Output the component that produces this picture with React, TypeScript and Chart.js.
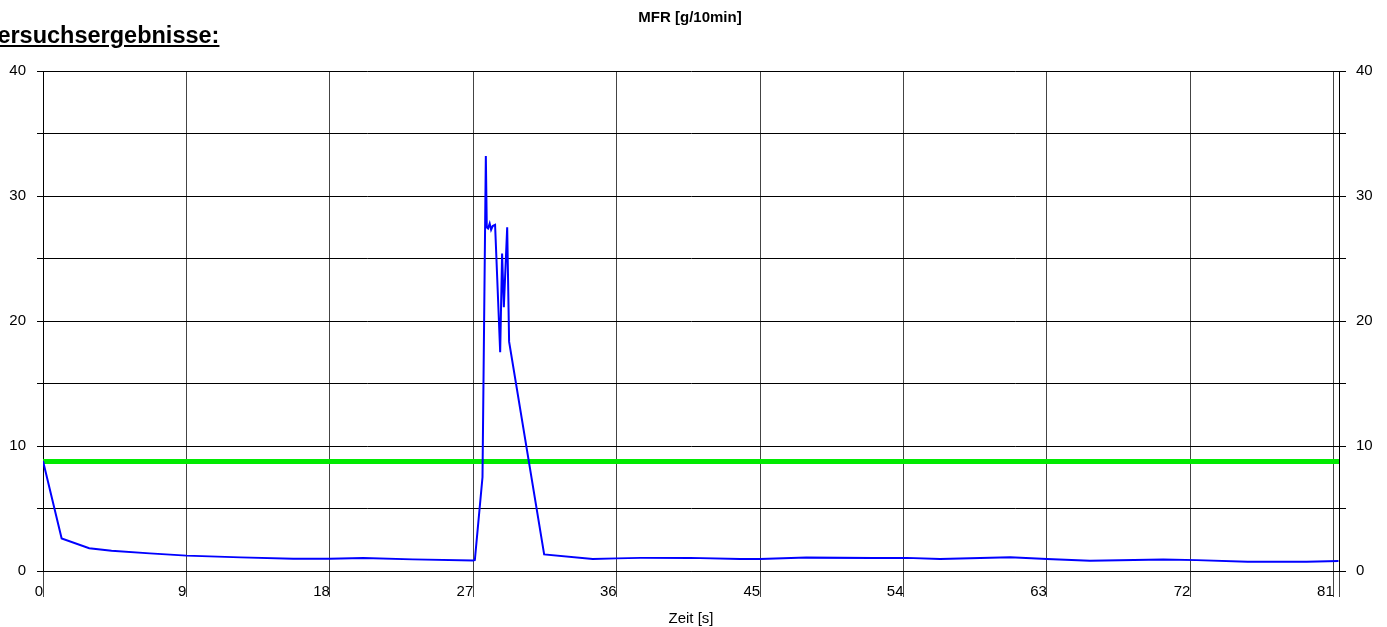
import React, { useEffect, useRef } from "react";
import { Chart, registerables } from "chart.js";

Chart.register(...registerables);

const timeS = [0, 1.17, 2.9, 4.3, 6.7, 9.0, 12.4, 15.7, 18, 20.1, 23.2, 27.0, 27.1, 27.58, 27.79, 27.85, 27.93, 28.03, 28.12, 28.22, 28.37, 28.69, 28.81, 28.92, 29.13, 29.25, 31.45, 34.5, 36, 37.5, 40.6, 43.75, 45, 47.9, 52.1, 54.2, 56.3, 60.7, 63, 65.7, 70.3, 72.4, 75.6, 79.3, 81.3];
const mfrValues = [8.8, 2.6, 1.82, 1.62, 1.41, 1.23, 1.09, 0.99, 0.99, 1.04, 0.93, 0.85, 0.88, 7.5, 33.2, 27.5, 27.4, 27.8, 27.3, 27.6, 27.7, 17.5, 25.4, 21.1, 27.5, 18.35, 1.33, 0.96, 1.01, 1.05, 1.05, 0.96, 0.96, 1.07, 1.05, 1.05, 0.96, 1.09, 0.96, 0.83, 0.91, 0.87, 0.75, 0.75, 0.8];
const limitTimes = [0, 81.33];
const limitValues = [8.76, 8.76];
const xTicks = [0, 9, 18, 27, 36, 45, 54, 63, 72, 81, 81.33];
const xMax = 81.33;
const yMin = 0;
const yMax = 40;
const yStep = 5;
const titleText = "MFR [g/10min]";
const xTitle = "Zeit [s]";
const headingText = "Versuchsergebnisse:";

const FONT = "'Liberation Sans', Arial, sans-serif";

export default function App() {
  const ref = useRef<HTMLCanvasElement | null>(null);

  useEffect(() => {
    if (!ref.current) return;
    const yTickCb = (v: any) => (Number(v) % 10 === 0 ? String(v) : "");
    const chart = new Chart(ref.current, {
      type: "line",
      data: {
        datasets: [
          {
            label: "MFR",
            data: timeS.map((t, i) => ({ x: t, y: mfrValues[i] })),
            borderColor: "#0000ff",
            borderWidth: 2,
            pointRadius: 0,
            tension: 0,
            order: 0,
          },
          {
            label: "Grenze",
            data: limitTimes.map((t, i) => ({ x: t, y: limitValues[i] })),
            borderColor: "#00ea00",
            borderWidth: 5,
            pointRadius: 0,
            tension: 0,
            order: 1,
          },
        ],
      },
      options: {
        responsive: false,
        animation: false,
        layout: { padding: { top: 71, left: 0, right: 0, bottom: 0 } },
        plugins: { legend: { display: false }, tooltip: { enabled: false } },
        scales: {
          x: {
            type: "linear",
            position: "bottom",
            min: 0,
            max: xMax,
            afterBuildTicks: (s: any) => {
              s.ticks = xTicks.map((v) => ({ value: v }));
            },
            afterFit: (s: any) => {
              s.height = 56;
            },
            ticks: {
              autoSkip: false,
              maxRotation: 0,
              align: "end",
              padding: -14,
              color: "#000",
              font: { family: FONT, size: 15 },
              callback: (v: any) => (Number(v) === xMax ? "" : String(v)),
            },
            grid: { color: "#444", lineWidth: 1, tickLength: 26, drawTicks: true },
            border: { color: "#000", width: 1 },
          },
          y: {
            position: "left",
            min: yMin,
            max: yMax,
            afterFit: (s: any) => {
              s.width = 43;
            },
            ticks: {
              stepSize: yStep,
              padding: 11,
              color: "#000",
              font: { family: FONT, size: 15 },
              callback: yTickCb,
            },
            grid: { color: "#000", lineWidth: 1, tickLength: 6 },
            border: { color: "#000", width: 1 },
          },
          y2: {
            position: "right",
            min: yMin,
            max: yMax,
            afterFit: (s: any) => {
              s.width = 48;
            },
            ticks: {
              stepSize: yStep,
              padding: 10,
              color: "#000",
              font: { family: FONT, size: 15 },
              callback: yTickCb,
            },
            grid: { color: "#000", lineWidth: 1, tickLength: 7, drawOnChartArea: false },
            border: { color: "#000", width: 1 },
          },
        },
      },
    });
    return () => chart.destroy();
  }, []);

  return (
    <div style={{ position: "fixed", left: 0, top: 0, width: 1387, height: 627, background: "#fff", overflow: "hidden" }}>
      <canvas ref={ref} width={1387} height={627} style={{ position: "absolute", left: 0, top: 0, width: 1387, height: 627 }} />
      <div
        style={{
          position: "absolute",
          left: -17,
          top: 23,
          fontFamily: FONT,
          fontWeight: "bold",
          fontSize: 23.5,
          lineHeight: "24px",
          textDecoration: "underline",
          whiteSpace: "nowrap",
          color: "#000",
        }}
      >
        {headingText}
      </div>
      <div
        style={{
          position: "absolute",
          left: 490,
          width: 400,
          top: 9,
          textAlign: "center",
          fontFamily: FONT,
          fontWeight: "bold",
          fontSize: 15,
          lineHeight: "15px",
          color: "#000",
        }}
      >
        {titleText}
      </div>
      <div
        style={{
          position: "absolute",
          left: 491,
          width: 400,
          top: 610,
          textAlign: "center",
          fontFamily: FONT,
          fontSize: 15,
          lineHeight: "15px",
          color: "#000",
        }}
      >
        {xTitle}
      </div>
    </div>
  );
}
